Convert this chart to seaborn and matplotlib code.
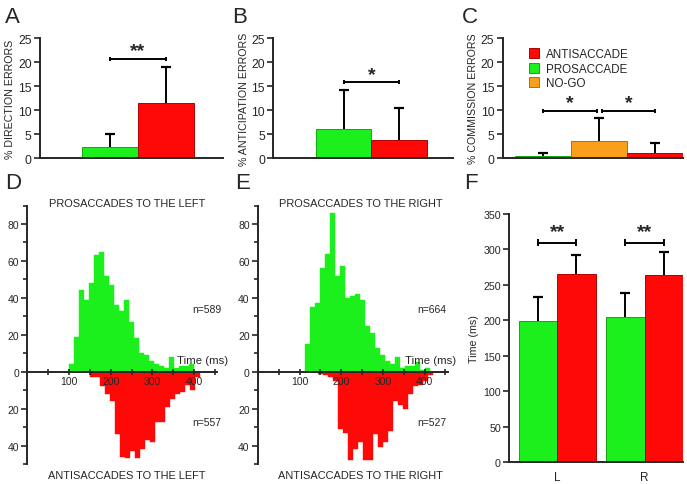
import numpy as np
import pandas as pd
import matplotlib
matplotlib.use('Agg')
import matplotlib.pyplot as plt
import seaborn as sns
from matplotlib.patches import Patch
from matplotlib.ticker import MultipleLocator, FuncFormatter

GREEN = '#1cf01c'
RED = '#ff0808'
ORANGE = '#f8a01c'
EDGE = {GREEN: '#12a812', RED: '#b00000', ORANGE: '#b07010'}

# panels A-C: error rates (%), mean and upper SD
tasks_ab = ['PROSACCADE', 'ANTISACCADE']
direction_err = [2.3, 11.4]
direction_sd = [2.7, 7.6]
anticip_err = [6.1, 3.9]
anticip_sd = [8.1, 6.6]
tasks_c = ['PROSACCADE', 'NO-GO', 'ANTISACCADE']
commission_err = [0.4, 3.5, 1.1]
commission_sd = [0.7, 4.8, 2.1]

# panel F: mean latencies (ms)
sides = ['L', 'R']
pro_latency = [199, 205]
pro_latency_sd = [33, 33]
anti_latency = [265, 263]
anti_latency_sd = [27, 33]

# panels D-E: latency histograms (12 ms bins)
bin_w = 12
left_pro_start = 99
left_pro = [4, 19, 44, 39, 48, 63, 65, 52, 47, 36, 33, 39, 27, 18, 10, 9, 6,
            4, 3, 2, 8, 2, 3, 3, 4]
left_anti_start = 150
left_anti = [3, 3, 8, 12, 16, 34, 46, 47, 43, 47, 42, 37, 38, 27, 27, 19, 15,
             12, 11, 7, 10, 3]
right_pro_start = 113
right_pro = [15, 35, 37, 56, 64, 86, 52, 57, 40, 41, 42, 39, 25, 21, 13, 9, 6,
             4, 8, 2, 3, 3, 5, 1, 2]
right_anti_start = 145
right_anti = [1, 2, 3, 5, 31, 33, 48, 42, 38, 48, 48, 34, 41, 38, 32, 16, 18,
              20, 12, 8, 7, 5, 2]

sns.set_style('ticks')
plt.rcParams['font.family'] = ['Liberation Sans', 'DejaVu Sans']
plt.rcParams['axes.linewidth'] = 1.4

fig = plt.figure(figsize=(6.87, 4.85), dpi=100)


def upper_err(ax, xs, vals, sds):
    tops = np.array(vals) + np.array(sds)
    ax.vlines(xs, vals, tops, color='k', lw=1.4, zorder=4)
    ax.plot(xs, tops, ls='none', marker='_', ms=7, mew=1.6, color='k', zorder=4)


def bracket(ax, x1, x2, y, h, text, ty):
    ax.plot([x1, x2], [y, y], color='k', lw=1.4)
    ax.vlines([x1, x2], y - h, y + h, color='k', lw=1.4)
    ax.text((x1 + x2) / 2, ty, text, ha='center', va='center',
            fontsize=14, fontweight='bold')


def error_panel(ax, tasks, vals, sds, colors, ylabel, xlim):
    sns.barplot(x=tasks, y=vals, hue=tasks, palette=colors, width=1.0,
                legend=False, ax=ax, saturation=1)
    for p, c in zip(ax.patches, colors):
        p.set_edgecolor(EDGE[c])
        p.set_linewidth(0.7)
    upper_err(ax, np.arange(len(vals)), vals, sds)
    ax.set_xlim(*xlim)
    ax.set_ylim(0, 25)
    ax.set_yticks(range(0, 26, 5))
    ax.set_xticks([])
    ax.set_xlabel('')
    ax.set_ylabel(ylabel, fontsize=7.7, labelpad=2)
    ax.tick_params(axis='y', labelsize=8.8, length=4, width=1.2, pad=2)
    sns.despine(ax=ax)


axA = fig.add_axes([0.0582, 0.6715, 0.266, 0.248])
error_panel(axA, tasks_ab, direction_err, direction_sd, [GREEN, RED],
            '% DIRECTION ERRORS', (-1.25, 2.02))
bracket(axA, 0, 1, 20.7, 0.45, '**', 22.4)

axB = fig.add_axes([0.3978, 0.6715, 0.2616, 0.248])
error_panel(axB, tasks_ab, anticip_err, anticip_sd, [GREEN, RED],
            '% ANTICIPATION ERRORS', (-1.27, 1.97))
bracket(axB, 0, 1, 15.9, 0.45, '*', 17.4)

axC = fig.add_axes([0.7317, 0.6715, 0.262, 0.248])
error_panel(axC, tasks_c, commission_err, commission_sd, [GREEN, ORANGE, RED],
            '% COMMISSION ERRORS', (-0.72, 2.49))
bracket(axC, 0, 0.96, 9.8, 0.45, '*', 11.6)
bracket(axC, 1.06, 1.99, 9.8, 0.45, '*', 11.6)
handles = [Patch(facecolor=RED, edgecolor=EDGE[RED], lw=0.7),
           Patch(facecolor=GREEN, edgecolor=EDGE[GREEN], lw=0.7),
           Patch(facecolor=ORANGE, edgecolor=EDGE[ORANGE], lw=0.7)]
axC.legend(handles, ['ANTISACCADE', 'PROSACCADE', 'NO-GO'], loc='upper left',
           bbox_to_anchor=(0.12, 0.955), frameon=False, fontsize=8.4,
           handlelength=0.9, handleheight=0.9, handletextpad=0.6,
           labelspacing=0.22, borderaxespad=0)


def hist_frame(start, counts, sign):
    edges = start + bin_w * np.arange(len(counts) + 1)
    df = pd.DataFrame({'t': edges[:-1] + bin_w / 2,
                       'n': sign * np.array(counts, dtype=float)})
    return df, [float(e) for e in edges]


def hist_panel(ax, pro_start, pro, anti_start, anti, side, n_pro, n_anti,
               title_x, n_x, time_x):
    pro_df, pro_edges = hist_frame(pro_start, pro, 1)
    anti_df, anti_edges = hist_frame(anti_start, anti, -1)
    sns.histplot(data=pro_df, x='t', weights='n', bins=pro_edges,
                 color=GREEN, alpha=1, edgecolor=GREEN, linewidth=0.3, ax=ax)
    sns.histplot(data=anti_df, x='t', weights='n', bins=anti_edges,
                 color=RED, alpha=1, edgecolor=RED, linewidth=0.3, ax=ax)
    ax.set_axisbelow(False)
    ax.set_xlim(0, 455)
    ax.set_ylim(-50, 90)
    ax.spines['bottom'].set_position(('data', 0))
    ax.spines['bottom'].set_zorder(5)
    sns.despine(ax=ax)
    ax.set_xlabel('')
    ax.set_ylabel('')
    ax.xaxis.set_major_locator(MultipleLocator(100))
    ax.xaxis.set_minor_locator(MultipleLocator(50))
    ax.yaxis.set_major_locator(MultipleLocator(20))
    ax.yaxis.set_minor_locator(MultipleLocator(10))
    ax.yaxis.set_major_formatter(FuncFormatter(lambda v, p: f'{abs(v):.0f}'))
    ax.xaxis.set_major_formatter(
        FuncFormatter(lambda v, p: '' if v == 0 else f'{v:.0f}'))
    ax.tick_params(axis='x', which='both', direction='inout', length=4,
                   width=1.2, labelsize=7.5, pad=1)
    ax.tick_params(axis='y', which='major', length=4, width=1.2,
                   labelsize=7.5, pad=2)
    ax.tick_params(axis='y', which='minor', length=3, width=1.2)
    ax.text(title_x, 91.5, f'PROSACCADES TO THE {side}', ha='center',
            va='center', fontsize=7.9, clip_on=False)
    ax.text(title_x, -56, f'ANTISACCADES TO THE {side}', ha='center',
            va='center', fontsize=7.9, clip_on=False)
    ax.text(n_x, 34, f'n={n_pro}', fontsize=7.5, va='center', clip_on=False)
    ax.text(n_x, -27, f'n={n_anti}', fontsize=7.5, va='center', clip_on=False)
    ax.text(time_x, 6.5, 'Time (ms)', fontsize=8.2, va='center', clip_on=False)


axD = fig.add_axes([0.040, 0.0412, 0.276, 0.533])
hist_panel(axD, left_pro_start, left_pro, left_anti_start, left_anti, 'LEFT',
           589, 557, 238, 396, 358)

axE = fig.add_axes([0.3755, 0.0412, 0.276, 0.533])
hist_panel(axE, right_pro_start, right_pro, right_anti_start, right_anti,
           'RIGHT', 664, 527, 247, 382, 354)

# panel F
axF = fig.add_axes([0.7413, 0.0447, 0.2528, 0.513])
lat = pd.DataFrame({
    'side': sides * 2,
    'task': ['PROSACCADE'] * 2 + ['ANTISACCADE'] * 2,
    'time': pro_latency + anti_latency,
})
sns.barplot(data=lat, x='side', y='time', hue='task',
            palette={'PROSACCADE': GREEN, 'ANTISACCADE': RED}, width=0.88,
            legend=False, saturation=1, ax=axF)
for p in axF.patches:
    fc = matplotlib.colors.to_hex(p.get_facecolor())
    p.set_edgecolor(EDGE[GREEN] if fc == GREEN else EDGE[RED])
    p.set_linewidth(0.7)
xs = np.arange(len(sides))
upper_err(axF, xs - 0.22, pro_latency, pro_latency_sd)
upper_err(axF, xs + 0.22, anti_latency, anti_latency_sd)
for x in xs:
    bracket(axF, x - 0.22, x + 0.22, 309, 5, '**', 324)
axF.set_xlim(-0.55, 1.44)
axF.set_ylim(0, 350)
axF.set_yticks(range(0, 351, 50))
axF.set_xlabel('')
axF.set_ylabel('Time (ms)', fontsize=7.7, labelpad=3)
axF.tick_params(axis='y', labelsize=7.7, length=4, width=1.2, pad=2)
axF.tick_params(axis='x', labelsize=8.4, length=0, pad=6)
sns.despine(ax=axF)

# panel letters
for letter, x, y in [('A', 0.007, 0.963), ('B', 0.338, 0.963),
                     ('C', 0.672, 0.963), ('D', 0.007, 0.622),
                     ('E', 0.342, 0.622), ('F', 0.675, 0.622)]:
    fig.text(x, y, letter, fontsize=16, ha='left', va='center')

fig.savefig('out.png', dpi=100)
